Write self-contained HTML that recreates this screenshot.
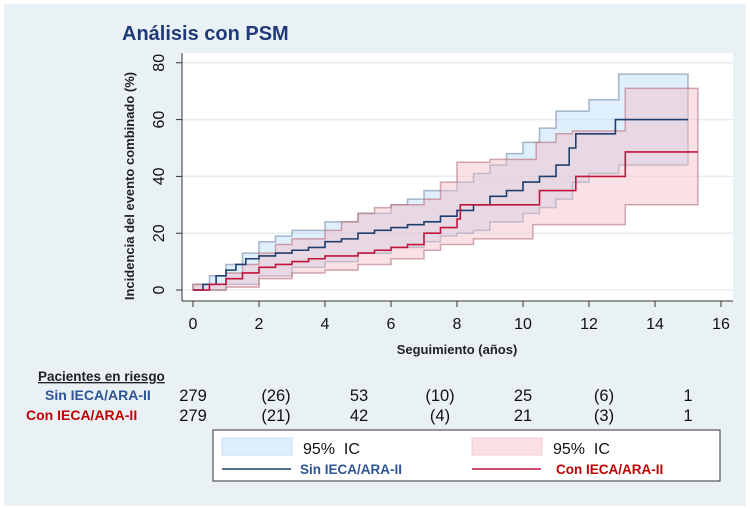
<!DOCTYPE html>
<html><head><meta charset="utf-8"><style>
html,body{margin:0;padding:0;background:#fff}
#wrap{position:absolute;left:4px;top:4px;width:742px;height:502px;background:#eaf1f4}
text{font-family:"Liberation Sans",sans-serif}
</style></head><body>
<div id="wrap"></div>
<svg id="c" width="750" height="510" style="position:absolute;left:0;top:0">
<text x="122" y="40" font-size="20" font-weight="bold" fill="#1f3a78">Análisis con PSM</text>
<rect x="182" y="53" width="551" height="248" fill="#fff"/>
<g id="grid"></g><g id="bands"></g><g id="lines"></g><g id="axes"></g>
<text transform="translate(134,186) rotate(-90)" text-anchor="middle" font-size="13" font-weight="bold" fill="#222">Incidencia del evento combinado (%)</text>
<text x="457" y="354" text-anchor="middle" font-size="13" font-weight="bold" fill="#222">Seguimiento (años)</text>
<text x="38" y="381" font-size="13.5" font-weight="bold" fill="#222" text-decoration="underline">Pacientes en riesgo</text>
<text x="45" y="400" font-size="14" font-weight="bold" fill="#2e5597">Sin IECA/ARA-II</text>
<text x="26" y="420" font-size="14" font-weight="bold" fill="#c00000">Con IECA/ARA-II</text>
<g id="risk"></g>
<rect x="213" y="430" width="507" height="51" fill="#fff" stroke="#333" stroke-width="1"/>
<rect x="222" y="438" width="70" height="17" fill="#ddeefc" stroke="#c6dff5"/>
<text x="303" y="454" font-size="16" fill="#111">95%&#160;&#160;IC</text>
<rect x="472" y="438" width="70" height="17" fill="#fae0e4" stroke="#f2cbd2"/>
<text x="553" y="454" font-size="16" fill="#111">95%&#160;&#160;IC</text>
<line x1="222" y1="469" x2="291" y2="469" stroke="#1f3f6e" stroke-width="1.5"/>
<text x="300" y="474" font-size="13.5" font-weight="bold" fill="#2e5597">Sin IECA/ARA-II</text>
<line x1="472" y1="469" x2="541" y2="469" stroke="#c0143c" stroke-width="1.5"/>
<text x="556" y="474" font-size="13.5" font-weight="bold" fill="#c00000">Con IECA/ARA-II</text>
</svg>
<script>
const xTicks=[0,2,4,6,8,10,12,14,16];
const yTicks=[0,20,40,60,80];
const sinT=[0,0.3,0.7,1,1.3,1.6,2,2.5,3,3.5,4,4.5,5,5.5,6,6.5,7,7.5,8,8.5,9,9.5,10,10.5,11,11.4,11.6,12.8,15];
const sinV=[0,2,5,7,9,11,12,13,14,15,17,18,20,21,22,23,24,26,28,30,33,35,38,40,44,50,55,60,60];
const conT=[0,0.5,1,1.5,2,2.5,3,3.5,4,5,5.5,6,6.5,7,7.5,8,8.1,10.5,11.6,13.1,15.3];
const conV=[0,2,4,6,8,9,10,11,12,13,14,15,16,20,22,25,30,35,40,48.6,48.6];
const sinUpT=[0,0.5,1,1.5,2,2.5,3,4,5,6,6.5,7,8,8.5,9,9.5,10,10.5,11,12,12.9,15];
const sinUpV=[2,5,9,13,17,19,21,24,27,30,32,35,38,41,44,48,52,57,63,67,76,76];
const sinLoT=[0,1,2,3,4,5,6,7,7.5,8,8.5,9,10,10.5,11,11.5,12,12.9,15];
const sinLoV=[0,2,5,8,10,13,15,17,19,20,21,24,27,29,32,38,41,44,44];
const conUpT=[0,1,1.5,2,2.5,3,4,4.5,5,5.5,6,7,7.5,8,9,10.4,11,11.5,13.1,15.3];
const conUpV=[2,6,9,13,16,18,21,24,27,29,30,32,38,45,46,52,55,56,71,71];
const conLoT=[0,1,2,3,4,5,6,7,7.5,8.5,10.3,13.1,15.3];
const conLoV=[0,1,4,6,7,9,11,14,16,18,23,30,30];
const riskSin=["279","(26)","53","(10)","25","(6)","1"];
const riskCon=["279","(21)","42","(4)","21","(3)","1"];
const NS='http://www.w3.org/2000/svg';
const X=t=>193+t*33, Y=v=>290-v*2.84;
function mk(tag,attrs,parent){const e=document.createElementNS(NS,tag);for(const k in attrs)e.setAttribute(k,attrs[k]);document.getElementById(parent).appendChild(e);return e;}
function stepPts(T,V){let p=[];for(let i=0;i<T.length;i++){if(i>0)p.push([X(T[i]),Y(V[i-1])]);p.push([X(T[i]),Y(V[i])]);}return p;}
yTicks.forEach(v=>{
 const g=mk('line',{x1:182,x2:733,y1:Y(v),y2:Y(v),stroke:'#e6eef2','stroke-width':1.5},'grid');
 
 
 const t=mk('line',{x1:176,x2:182,y1:Y(v),y2:Y(v),stroke:'#333'},'axes');
 
 
 const l=mk('text',{x:160,y:Y(v),'font-size':16,'text-anchor':'middle',fill:'#111',transform:`rotate(-90 160 ${Y(v)})`,'dominant-baseline':'middle'},'axes');
 
 
 l.textContent=v;
});
xTicks.forEach(v=>{
 const t=mk('line',{x1:X(v),x2:X(v),y1:301,y2:307,stroke:'#333'},'axes');
 
 
 const l=mk('text',{x:X(v),y:329,'font-size':16,'text-anchor':'middle',fill:'#111'},'axes');
 
 
 l.textContent=v;
});
const ax1=mk('line',{x1:182,x2:182,y1:53,y2:301,stroke:'#333'},'axes');


const ax2=mk('line',{x1:182,x2:733,y1:301,y2:301,stroke:'#333'},'axes');


function band(uT,uV,lT,lV,fill,stroke,name){
 const up=stepPts(uT,uV), lo=stepPts(lT,lV).reverse();
 const pts=up.concat(lo).map(p=>p.join(',')).join(' ');
 const b=mk('polygon',{points:pts,fill:fill,'fill-opacity':0.45,stroke:stroke,'stroke-width':1.5,'stroke-opacity':0.6},'bands');
 
 
}
band(sinUpT,sinUpV,sinLoT,sinLoV,'#b9dcf7','#6f88a8','ci-band-sin');
band(conUpT,conUpV,conLoT,conLoV,'#f5bcc7','#b66f7c','ci-band-con');
function line(T,V,col,name){
 const l=mk('polyline',{points:stepPts(T,V).map(p=>p.join(',')).join(' '),fill:'none',stroke:col,'stroke-width':1.6},'lines');
 
 
}
line(sinT,sinV,'#1f3f6e','line-sin-ieca');
line(conT,conV,'#c0143c','line-con-ieca');
const rx=[193,276,359,440,523,604,688];
riskSin.forEach((s,i)=>{const t=mk('text',{x:rx[i],y:401,'font-size':16.5,'text-anchor':'middle',fill:'#111'},'risk');
 
 
 t.textContent=s;});
riskCon.forEach((s,i)=>{const t=mk('text',{x:rx[i],y:421,'font-size':16.5,'text-anchor':'middle',fill:'#111'},'risk');
 
 
 t.textContent=s;});
</script>
</body></html>
